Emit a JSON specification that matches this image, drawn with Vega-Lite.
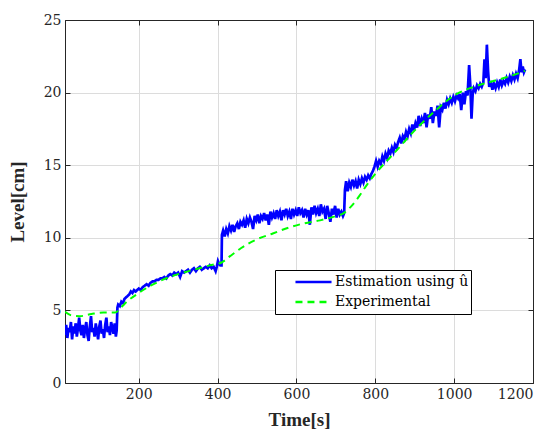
{
  "$schema": "https://vega.github.io/schema/vega-lite/v6.json",
  "width": 468,
  "height": 363,
  "autosize": "none",
  "padding": {"left": 65, "top": 20, "right": 19, "bottom": 49},
  "background": "white",
  "config": {
    "view": {"stroke": "#262626", "strokeWidth": 1},
    "font": "DejaVu Serif",
    "axis": {
      "labelFont": "DejaVu Serif",
      "titleFont": "Liberation Serif",
      "labelFontSize": 14,
      "titleFontSize": 19,
      "titleFontWeight": "bold",
      "labelColor": "#262626",
      "titleColor": "#262626",
      "domainColor": "#262626",
      "tickColor": "#262626",
      "gridColor": "#dcdcdc",
      "gridWidth": 1,
      "tickSize": -5,
      "labelPadding": 9,
      "format": "d"
    }
  },
  "layer": [
    {
      "data": {"values": [
        {"t":13,"v":3.3,"s":"a"},{"t":16,"v":4.0,"s":"a"},{"t":19,"v":3.1,"s":"a"},{"t":22,"v":3.8,"s":"a"},{"t":25,"v":3.5,"s":"a"},{"t":28,"v":4.2,"s":"a"},{"t":31,"v":3.0,"s":"a"},{"t":34,"v":3.9,"s":"a"},{"t":37,"v":3.4,"s":"a"},{"t":40,"v":4.1,"s":"a"},{"t":43,"v":3.2,"s":"a"},{"t":46,"v":3.8,"s":"a"},{"t":49,"v":4.5,"s":"a"},{"t":52,"v":3.6,"s":"a"},{"t":55,"v":3.3,"s":"a"},{"t":58,"v":4.0,"s":"a"},{"t":61,"v":3.1,"s":"a"},{"t":64,"v":3.7,"s":"a"},{"t":67,"v":4.2,"s":"a"},{"t":70,"v":3.3,"s":"a"},{"t":73,"v":2.9,"s":"a"},{"t":76,"v":3.9,"s":"a"},{"t":79,"v":4.6,"s":"a"},{"t":82,"v":3.5,"s":"a"},{"t":85,"v":3.8,"s":"a"},{"t":88,"v":3.2,"s":"a"},{"t":91,"v":4.1,"s":"a"},{"t":94,"v":3.6,"s":"a"},{"t":97,"v":3.0,"s":"a"},{"t":100,"v":3.9,"s":"a"},{"t":103,"v":4.3,"s":"a"},{"t":106,"v":3.4,"s":"a"},{"t":109,"v":3.7,"s":"a"},{"t":112,"v":3.1,"s":"a"},{"t":115,"v":4.0,"s":"a"},{"t":118,"v":4.5,"s":"a"},{"t":121,"v":3.5,"s":"a"},{"t":124,"v":3.9,"s":"a"},{"t":127,"v":3.3,"s":"a"},{"t":130,"v":4.2,"s":"a"},{"t":133,"v":3.8,"s":"a"},{"t":136,"v":3.4,"s":"a"},{"t":139,"v":4.1,"s":"a"},{"t":142,"v":3.2,"s":"a"},{"t":144,"v":3.6,"s":"a"},{"t":146,"v":5.2,"s":"a"},
        {"t":148,"v":5.4,"s":"a"},{"t":152,"v":5.3,"s":"a"},{"t":156,"v":5.6,"s":"a"},{"t":160,"v":5.5,"s":"a"},{"t":164,"v":5.8,"s":"a"},{"t":168,"v":5.9,"s":"a"},{"t":172,"v":6.0,"s":"a"},{"t":176,"v":6.1,"s":"a"},{"t":180,"v":6.3,"s":"a"},{"t":184,"v":6.2,"s":"a"},{"t":188,"v":6.4,"s":"a"},{"t":192,"v":6.3,"s":"a"},{"t":196,"v":6.4,"s":"a"},{"t":200,"v":6.5,"s":"a"},{"t":205,"v":6.4,"s":"a"},{"t":210,"v":6.6,"s":"a"},{"t":215,"v":6.7,"s":"a"},{"t":220,"v":6.8,"s":"a"},{"t":225,"v":6.7,"s":"a"},{"t":230,"v":6.9,"s":"a"},{"t":235,"v":7.0,"s":"a"},{"t":240,"v":7.0,"s":"a"},{"t":245,"v":7.1,"s":"a"},{"t":250,"v":7.1,"s":"a"},{"t":255,"v":7.2,"s":"a"},{"t":260,"v":7.2,"s":"a"},{"t":265,"v":7.3,"s":"a"},{"t":270,"v":7.2,"s":"a"},{"t":275,"v":7.4,"s":"a"},{"t":280,"v":7.5,"s":"a"},{"t":285,"v":7.4,"s":"a"},{"t":290,"v":7.6,"s":"a"},{"t":295,"v":7.5,"s":"a"},{"t":300,"v":7.6,"s":"a"},{"t":305,"v":7.3,"s":"a"},{"t":310,"v":7.7,"s":"a"},{"t":315,"v":7.6,"s":"a"},{"t":320,"v":7.7,"s":"a"},{"t":325,"v":7.8,"s":"a"},{"t":330,"v":7.6,"s":"a"},{"t":335,"v":7.8,"s":"a"},{"t":340,"v":7.9,"s":"a"},{"t":345,"v":7.7,"s":"a"},{"t":350,"v":7.9,"s":"a"},{"t":355,"v":8.0,"s":"a"},{"t":360,"v":7.8,"s":"a"},{"t":365,"v":7.9,"s":"a"},{"t":370,"v":8.0,"s":"a"},{"t":375,"v":7.9,"s":"a"},{"t":380,"v":8.1,"s":"a"},{"t":385,"v":7.9,"s":"a"},{"t":390,"v":8.0,"s":"a"},{"t":395,"v":7.7,"s":"a"},{"t":398,"v":8.0,"s":"a"},{"t":401,"v":8.4,"s":"a"},{"t":404,"v":8.2,"s":"a"},{"t":407,"v":8.1,"s":"a"},{"t":410,"v":8.1,"s":"a"},{"t":411,"v":10.2,"s":"a"},
        {"t":414,"v":10.5,"s":"a"},{"t":418,"v":10.1,"s":"a"},{"t":422,"v":10.6,"s":"a"},{"t":426,"v":10.3,"s":"a"},{"t":430,"v":10.8,"s":"a"},{"t":434,"v":10.5,"s":"a"},{"t":438,"v":10.9,"s":"a"},{"t":442,"v":10.4,"s":"a"},{"t":446,"v":10.8,"s":"a"},{"t":450,"v":11.0,"s":"a"},{"t":454,"v":10.6,"s":"a"},{"t":458,"v":11.1,"s":"a"},{"t":462,"v":10.9,"s":"a"},{"t":466,"v":11.2,"s":"a"},{"t":470,"v":10.7,"s":"a"},{"t":474,"v":11.3,"s":"a"},{"t":478,"v":11.0,"s":"a"},{"t":482,"v":11.4,"s":"a"},{"t":486,"v":11.1,"s":"a"},{"t":490,"v":10.6,"s":"a"},{"t":494,"v":11.5,"s":"a"},{"t":498,"v":11.2,"s":"a"},{"t":502,"v":11.6,"s":"a"},{"t":506,"v":11.0,"s":"a"},{"t":510,"v":11.5,"s":"a"},{"t":514,"v":11.3,"s":"a"},{"t":518,"v":11.7,"s":"a"},{"t":522,"v":11.2,"s":"a"},{"t":526,"v":11.6,"s":"a"},{"t":530,"v":10.9,"s":"a"},{"t":534,"v":11.8,"s":"a"},{"t":538,"v":11.4,"s":"a"},{"t":542,"v":11.7,"s":"a"},{"t":546,"v":11.3,"s":"a"},{"t":550,"v":11.9,"s":"a"},{"t":554,"v":11.5,"s":"a"},{"t":558,"v":11.8,"s":"a"},{"t":562,"v":11.2,"s":"a"},{"t":566,"v":11.9,"s":"a"},{"t":570,"v":11.6,"s":"a"},{"t":574,"v":12.0,"s":"a"},{"t":578,"v":11.5,"s":"a"},{"t":582,"v":11.8,"s":"a"},{"t":586,"v":11.3,"s":"a"},{"t":590,"v":12.0,"s":"a"},{"t":594,"v":11.6,"s":"a"},{"t":598,"v":11.9,"s":"a"},{"t":602,"v":11.5,"s":"a"},{"t":606,"v":12.1,"s":"a"},{"t":610,"v":11.7,"s":"a"},{"t":614,"v":11.9,"s":"a"},{"t":618,"v":11.4,"s":"a"},{"t":622,"v":12.0,"s":"a"},{"t":626,"v":11.6,"s":"a"},{"t":630,"v":11.9,"s":"a"},{"t":634,"v":10.9,"s":"a"},{"t":638,"v":12.1,"s":"a"},{"t":642,"v":11.6,"s":"a"},{"t":646,"v":12.2,"s":"a"},{"t":650,"v":11.7,"s":"a"},{"t":654,"v":12.0,"s":"a"},{"t":658,"v":11.5,"s":"a"},{"t":662,"v":12.3,"s":"a"},{"t":666,"v":11.8,"s":"a"},{"t":670,"v":12.0,"s":"a"},{"t":674,"v":11.3,"s":"a"},{"t":678,"v":12.2,"s":"a"},{"t":682,"v":11.7,"s":"a"},{"t":686,"v":11.1,"s":"a"},{"t":690,"v":12.0,"s":"a"},{"t":694,"v":11.6,"s":"a"},{"t":698,"v":12.2,"s":"a"},{"t":702,"v":11.4,"s":"a"},{"t":706,"v":12.0,"s":"a"},{"t":710,"v":11.6,"s":"a"},{"t":714,"v":11.8,"s":"a"},{"t":718,"v":11.5,"s":"a"},{"t":721,"v":11.7,"s":"a"},{"t":723,"v":13.3,"s":"a"},
        {"t":726,"v":13.9,"s":"a"},{"t":730,"v":13.2,"s":"a"},{"t":734,"v":13.8,"s":"a"},{"t":738,"v":13.5,"s":"a"},{"t":742,"v":14.0,"s":"a"},{"t":746,"v":13.6,"s":"a"},{"t":750,"v":13.9,"s":"a"},{"t":754,"v":13.4,"s":"a"},{"t":758,"v":14.0,"s":"a"},{"t":762,"v":13.7,"s":"a"},{"t":766,"v":14.1,"s":"a"},{"t":770,"v":13.8,"s":"a"},{"t":774,"v":14.2,"s":"a"},{"t":778,"v":14.0,"s":"a"},{"t":782,"v":14.3,"s":"a"},{"t":786,"v":14.1,"s":"a"},{"t":790,"v":14.4,"s":"a"},{"t":794,"v":14.6,"s":"a"},{"t":798,"v":14.9,"s":"a"},{"t":802,"v":15.3,"s":"a"},{"t":806,"v":14.9,"s":"a"},{"t":810,"v":15.3,"s":"a"},{"t":814,"v":15.1,"s":"a"},{"t":818,"v":15.6,"s":"a"},{"t":822,"v":15.3,"s":"a"},{"t":826,"v":15.8,"s":"a"},{"t":830,"v":15.5,"s":"a"},{"t":834,"v":16.0,"s":"a"},{"t":838,"v":15.8,"s":"a"},{"t":842,"v":16.2,"s":"a"},{"t":846,"v":15.9,"s":"a"},{"t":850,"v":16.4,"s":"a"},{"t":854,"v":16.2,"s":"a"},{"t":858,"v":16.6,"s":"a"},{"t":862,"v":16.9,"s":"a"},{"t":866,"v":16.5,"s":"a"},{"t":870,"v":17.0,"s":"a"},{"t":874,"v":16.8,"s":"a"},{"t":878,"v":17.3,"s":"a"},{"t":882,"v":17.0,"s":"a"},{"t":886,"v":17.5,"s":"a"},{"t":890,"v":17.2,"s":"a"},{"t":894,"v":17.8,"s":"a"},{"t":898,"v":17.4,"s":"a"},{"t":902,"v":17.9,"s":"a"},{"t":906,"v":17.6,"s":"a"},{"t":910,"v":18.4,"s":"a"},{"t":914,"v":17.7,"s":"a"},{"t":918,"v":18.2,"s":"a"},{"t":922,"v":17.9,"s":"a"},{"t":926,"v":18.6,"s":"a"},{"t":930,"v":17.6,"s":"a"},{"t":934,"v":18.5,"s":"a"},{"t":938,"v":18.2,"s":"a"},{"t":942,"v":19.0,"s":"a"},{"t":946,"v":17.9,"s":"a"},{"t":950,"v":18.7,"s":"a"},{"t":954,"v":18.4,"s":"a"},{"t":958,"v":19.1,"s":"a"},{"t":962,"v":17.6,"s":"a"},{"t":966,"v":19.0,"s":"a"},{"t":970,"v":18.8,"s":"a"},{"t":974,"v":19.3,"s":"a"},{"t":978,"v":18.9,"s":"a"},{"t":982,"v":19.5,"s":"a"},{"t":986,"v":19.2,"s":"a"},{"t":990,"v":19.6,"s":"a"},{"t":994,"v":19.3,"s":"a"},{"t":998,"v":19.7,"s":"a"},{"t":1002,"v":19.4,"s":"a"},{"t":1006,"v":19.8,"s":"a"},{"t":1010,"v":19.6,"s":"a"},{"t":1014,"v":19.9,"s":"a"},{"t":1018,"v":18.8,"s":"a"},{"t":1022,"v":20.0,"s":"a"},{"t":1026,"v":19.2,"s":"a"},{"t":1030,"v":20.1,"s":"a"},{"t":1034,"v":19.8,"s":"a"},{"t":1038,"v":21.9,"s":"a"},{"t":1041,"v":20.5,"s":"a"},{"t":1044,"v":18.2,"s":"a"},{"t":1047,"v":19.9,"s":"a"},{"t":1050,"v":20.3,"s":"a"},{"t":1054,"v":20.1,"s":"a"},{"t":1058,"v":20.5,"s":"a"},{"t":1062,"v":20.3,"s":"a"},{"t":1066,"v":20.6,"s":"a"},{"t":1070,"v":20.4,"s":"a"},{"t":1074,"v":20.7,"s":"a"},{"t":1077,"v":22.3,"s":"a"},{"t":1080,"v":21.0,"s":"a"},{"t":1083,"v":23.3,"s":"a"},{"t":1086,"v":21.5,"s":"a"},{"t":1089,"v":20.4,"s":"a"},{"t":1093,"v":20.8,"s":"a"},{"t":1097,"v":20.2,"s":"a"},{"t":1101,"v":20.6,"s":"a"},{"t":1105,"v":20.3,"s":"a"},{"t":1109,"v":20.7,"s":"a"},{"t":1113,"v":20.4,"s":"a"},{"t":1117,"v":20.9,"s":"a"},{"t":1121,"v":20.5,"s":"a"},{"t":1125,"v":20.8,"s":"a"},{"t":1129,"v":20.6,"s":"a"},{"t":1133,"v":21.0,"s":"a"},{"t":1137,"v":20.7,"s":"a"},{"t":1141,"v":21.1,"s":"a"},{"t":1145,"v":20.8,"s":"a"},{"t":1149,"v":21.2,"s":"a"},{"t":1153,"v":20.9,"s":"a"},{"t":1157,"v":21.3,"s":"a"},{"t":1161,"v":21.0,"s":"a"},{"t":1165,"v":21.6,"s":"a"},{"t":1168,"v":22.3,"s":"a"},{"t":1171,"v":21.4,"s":"a"},{"t":1174,"v":21.8,"s":"a"},{"t":1177,"v":21.4,"s":"a"},{"t":1180,"v":21.6,"s":"a"}
      ]},
      "mark": {"type": "line", "strokeWidth": 2.7, "clip": true},
      "encoding": {
        "x": {"field": "t", "type": "quantitative", "scale": {"domain": [13, 1200], "nice": false, "zero": false},
              "axis": {"orient": "bottom", "title": "Time[s]", "values": [200, 400, 600, 800, 1000, 1200], "titlePadding": 9, "format": "d"}},
        "y": {"field": "v", "type": "quantitative", "scale": {"domain": [0, 25], "nice": false},
              "axis": {"orient": "left", "title": "Level[cm]", "values": [0, 5, 10, 15, 20, 25], "titlePadding": 16}},
        "color": {"field": "s", "type": "nominal", "scale": {"domain": ["a", "b"], "range": ["#0000ff", "#00ff00"]},
                  "legend": {"orient": "none", "legendX": 210, "legendY": 250, "title": null,
                             "labelExpr": "datum.label == 'a' ? 'Estimation using û' : 'Experimental'",
                             "labelFont": "DejaVu Serif", "labelFontSize": 14, "labelColor": "#000000",
                             "symbolType": "stroke", "symbolSize": 1300, "symbolStrokeWidth": 2.5,
                             "clipHeight": 20, "symbolOffset": 17,
                             "fillColor": "white", "strokeColor": "#000000", "padding": 2, "rowPadding": 0,
                             "labelOffset": 2, "cornerRadius": 0}},
        "strokeDash": {"field": "s", "type": "nominal", "scale": {"domain": ["a", "b"], "range": [[1, 0], [7, 5]]}, "legend": null}
      }
    },
    {
      "data": {"values": [
        {"t":13,"v":4.9,"s":"b"},{"t":30,"v":4.65,"s":"b"},{"t":50,"v":4.6,"s":"b"},{"t":80,"v":4.75,"s":"b"},{"t":110,"v":4.85,"s":"b"},{"t":140,"v":4.85,"s":"b"},{"t":155,"v":5.2,"s":"b"},{"t":170,"v":5.6,"s":"b"},{"t":200,"v":6.2,"s":"b"},{"t":230,"v":6.7,"s":"b"},{"t":260,"v":7.1,"s":"b"},{"t":300,"v":7.5,"s":"b"},{"t":340,"v":7.8,"s":"b"},{"t":380,"v":8.1,"s":"b"},{"t":410,"v":8.3,"s":"b"},{"t":430,"v":8.7,"s":"b"},{"t":460,"v":9.3,"s":"b"},{"t":500,"v":9.9,"s":"b"},{"t":540,"v":10.3,"s":"b"},{"t":580,"v":10.7,"s":"b"},{"t":620,"v":11.0,"s":"b"},{"t":660,"v":11.2,"s":"b"},{"t":700,"v":11.5,"s":"b"},{"t":720,"v":11.7,"s":"b"},{"t":740,"v":12.2,"s":"b"},{"t":760,"v":12.9,"s":"b"},{"t":780,"v":13.7,"s":"b"},{"t":800,"v":14.4,"s":"b"},{"t":850,"v":15.9,"s":"b"},{"t":900,"v":17.4,"s":"b"},{"t":950,"v":18.7,"s":"b"},{"t":1000,"v":19.8,"s":"b"},{"t":1050,"v":20.4,"s":"b"},{"t":1100,"v":20.8,"s":"b"},{"t":1150,"v":21.2,"s":"b"},{"t":1180,"v":21.5,"s":"b"}
      ]},
      "mark": {"type": "line", "strokeWidth": 2, "interpolate": "monotone", "clip": true},
      "encoding": {
        "x": {"field": "t", "type": "quantitative", "axis": {"orient": "top", "labels": false, "title": null, "grid": false, "values": [200, 400, 600, 800, 1000, 1200]}},
        "y": {"field": "v", "type": "quantitative", "axis": {"orient": "right", "labels": false, "title": null, "grid": false, "values": [0, 5, 10, 15, 20, 25]}},
        "color": {"field": "s", "type": "nominal"},
        "strokeDash": {"field": "s", "type": "nominal"}
      }
    }
  ]
}
